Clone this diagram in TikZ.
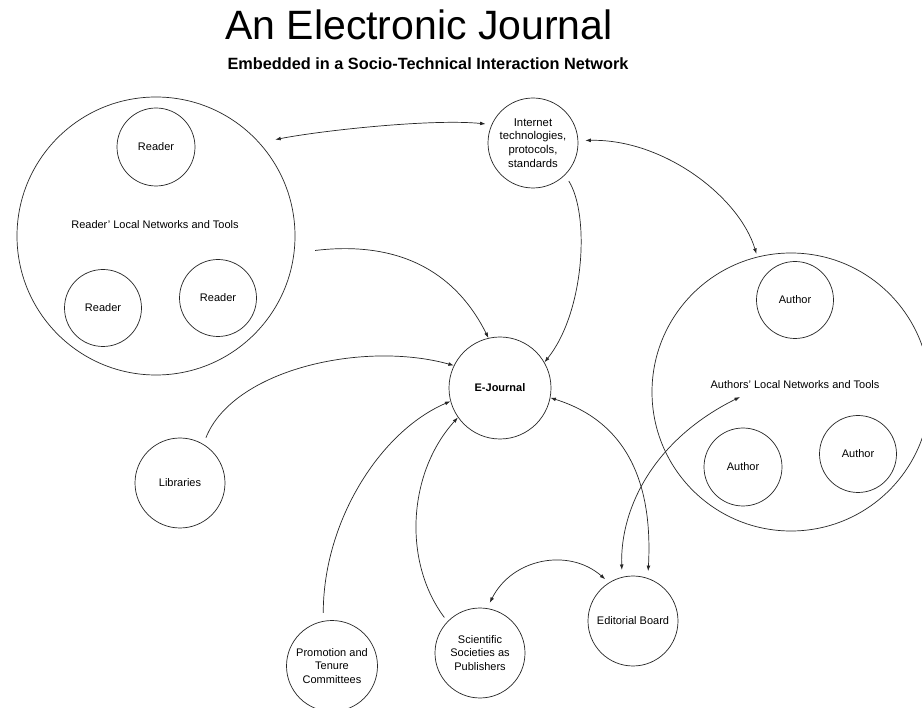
\documentclass[tikz,border=0pt]{standalone}
\usepackage{fontspec}
\setmainfont{Liberation Sans}
\usetikzlibrary{arrows.meta}
\begin{document}
\begin{tikzpicture}[x=1pt,y=-1pt,
  circ/.style={circle,draw=black!85,line width=0.7pt,inner sep=0pt,align=center,font=\fontsize{11}{13.7}\selectfont},
  lbl/.style={font=\fontsize{11}{13.7}\selectfont},
  tip/.tip={Latex[length=5.5pt,width=3.8pt]},
  conn/.style={line width=0.7pt,draw=black!85,-tip},
  bicon/.style={line width=0.7pt,draw=black!85,tip-tip}]
\useasboundingbox (0,0) rectangle (922,708);
\fill[white] (0,0) rectangle (922,708);
% titles
\node[anchor=base,inner sep=0pt,font=\fontsize{41}{41}\selectfont] (title) at (419,40) {An Electronic Journal};
\node[anchor=base,inner sep=0pt,font=\bfseries\fontsize{16.3}{16.3}\selectfont] (subtitle) at (428,70) {Embedded in a Socio-Technical Interaction Network};
% readers
\node[circ,minimum size=278pt] (readers) at (156,236) {};
\node[lbl] (readerslbl) at (155,225) {Reader’ Local Networks and Tools};
\node[circ,minimum size=78pt] (r1) at (156,147) {Reader};
\node[circ,minimum size=77pt] (r2) at (103,308) {Reader};
\node[circ,minimum size=77pt] (r3) at (218,298) {Reader};
% internet
\node[circ,minimum size=90pt,font=\fontsize{11.3}{13.7}\selectfont] (inet) at (533,143) {Internet\\technologies,\\protocols,\\standards};
% e-journal
\node[circ,minimum size=102pt,font=\bfseries\fontsize{11}{13}\selectfont] (ej) at (500,388) {E-Journal};
% authors
\node[circ,minimum size=278pt] (authors) at (791,392) {};
\node[lbl] (authlbl) at (795,385) {Authors’ Local Networks and Tools};
\coordinate (authpt) at (740,397);
\node[circ,minimum size=77pt] (a1) at (795,300) {Author};
\node[circ,minimum size=78pt] (a2) at (743,467) {Author};
\node[circ,minimum size=77pt] (a3) at (858,454) {Author};
% others
\node[circ,minimum size=90pt] (lib) at (180,483) {Libraries};
\node[circ,minimum size=91pt] (prom) at (332,666) {Promotion and\\Tenure\\Committees};
\node[circ,minimum size=90pt] (sci) at (480,653) {Scientific\\Societies as\\Publishers};
\node[circ,minimum size=90pt] (ed) at (633,621) {Editorial Board};
% connectors
\draw[bicon,shorten <=16pt,shorten >=6pt] (readers.42) .. controls +(60,-12) and +(-60,-6) .. (inet.156);
\draw[bicon,shorten <=7pt,shorten >=3pt] (inet.3) .. controls +(85,-2) and +(-18,-60) .. (authors.104);
\draw[conn,shorten <=7pt] (inet.-45) .. controls +(25,40) and +(40,-50) .. (ej.30);
\draw[conn,shorten <=21pt] (readers.-7) .. controls +(100,-12) and +(-35,-70) .. (ej.103);
\draw[conn,shorten <=7pt] (lib.59) .. controls +(30,-75) and +(-90,-25) .. (ej.154);
\draw[conn,shorten <=8pt] (prom.101) .. controls +(0,-100) and +(-70,30) .. (ej.195);
\draw[conn,shorten <=5pt] (sci.136) .. controls +(-45,-60) and +(-50,55) .. (ej.215);
\draw[bicon,shorten >=7pt] (ej.-11) .. controls +(80,25) and +(5,-90) .. (ed.71);
\draw[bicon,shorten >=7pt] (authpt) .. controls +(-85,42) and +(-2,-70) .. (ed.104);
\draw[bicon,shorten <=6pt,shorten >=5pt] (sci.81) .. controls +(25,-50) and +(-40,-35) .. (ed.122);
\end{tikzpicture}
\end{document}
